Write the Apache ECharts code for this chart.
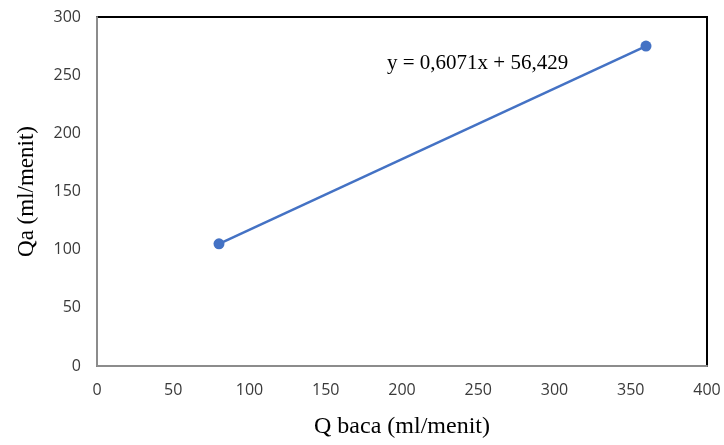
<!DOCTYPE html>
<html>
<head>
<meta charset="utf-8">
<script src="https://cdn.jsdelivr.net/npm/echarts@6/dist/echarts.min.js"></script>
<style>
  html, body { margin: 0; padding: 0; background: #fff; }
  #grafik { width: 724px; height: 445px; }
</style>
</head>
<body>
<div id="grafik"></div>
<script>
var qBaca = [80, 360];
var qa = [105, 275];
var xTicks = [0, 50, 100, 150, 200, 250, 300, 350, 400];
var yTicks = [0, 50, 100, 150, 200, 250, 300];
var persamaan = 'y = 0,6071x + 56,429';

function drawGrafik () {

  var chartDom = document.getElementById('grafik');
  var myChart = echarts.init(chartDom);
  var option;

  var titik = qBaca.map(function (x, i) { return [x, qa[i]]; });

  option = {
    animation: false,
    backgroundColor: '#fff',
    grid: {
      left: 97, right: 17, top: 17, bottom: 79,
      show: true,
      borderColor: '#000',
      borderWidth: 2
    },
    xAxis: {
      type: 'value',
      min: xTicks[0],
      max: xTicks[xTicks.length - 1],
      interval: 50,
      name: 'Q baca (ml/menit)',
      nameLocation: 'middle',
      nameGap: 49,
      nameTextStyle: { fontFamily: 'Liberation Serif', fontSize: 24, color: '#000' },
      axisLine: { show: true, lineStyle: { color: '#8c8c8c', width: 2 } },
      axisTick: { show: false },
      splitLine: { show: false },
      axisLabel: { margin: 16, fontFamily: 'Open Sans', fontSize: 16, color: '#3a3a3a' }
    },
    yAxis: {
      type: 'value',
      min: yTicks[0],
      max: yTicks[yTicks.length - 1],
      interval: 50,
      name: 'Qa (ml/menit)',
      nameLocation: 'middle',
      nameGap: 59,
      nameTextStyle: { fontFamily: 'Liberation Serif', fontSize: 23, color: '#000' },
      axisLine: { show: true, lineStyle: { color: '#8c8c8c', width: 2 } },
      axisTick: { show: false },
      splitLine: { show: false },
      axisLabel: { margin: 16, fontFamily: 'Open Sans', fontSize: 16, color: '#3a3a3a' }
    },
    series: [
      {
        type: 'line',
        data: titik,
        symbol: 'circle',
        symbolSize: 11,
        itemStyle: { color: '#4472C4' },
        lineStyle: { color: '#4472C4', width: 2.5 }
      }
    ],
    graphic: [
      {
        type: 'text',
        left: 387,
        top: 53,
        style: {
          text: persamaan,
          font: '21px "Liberation Serif"',
          fill: '#000'
        }
      }
    ]
  };

  option && myChart.setOption(option);

}

drawGrafik()
</script>
</body>
</html>
